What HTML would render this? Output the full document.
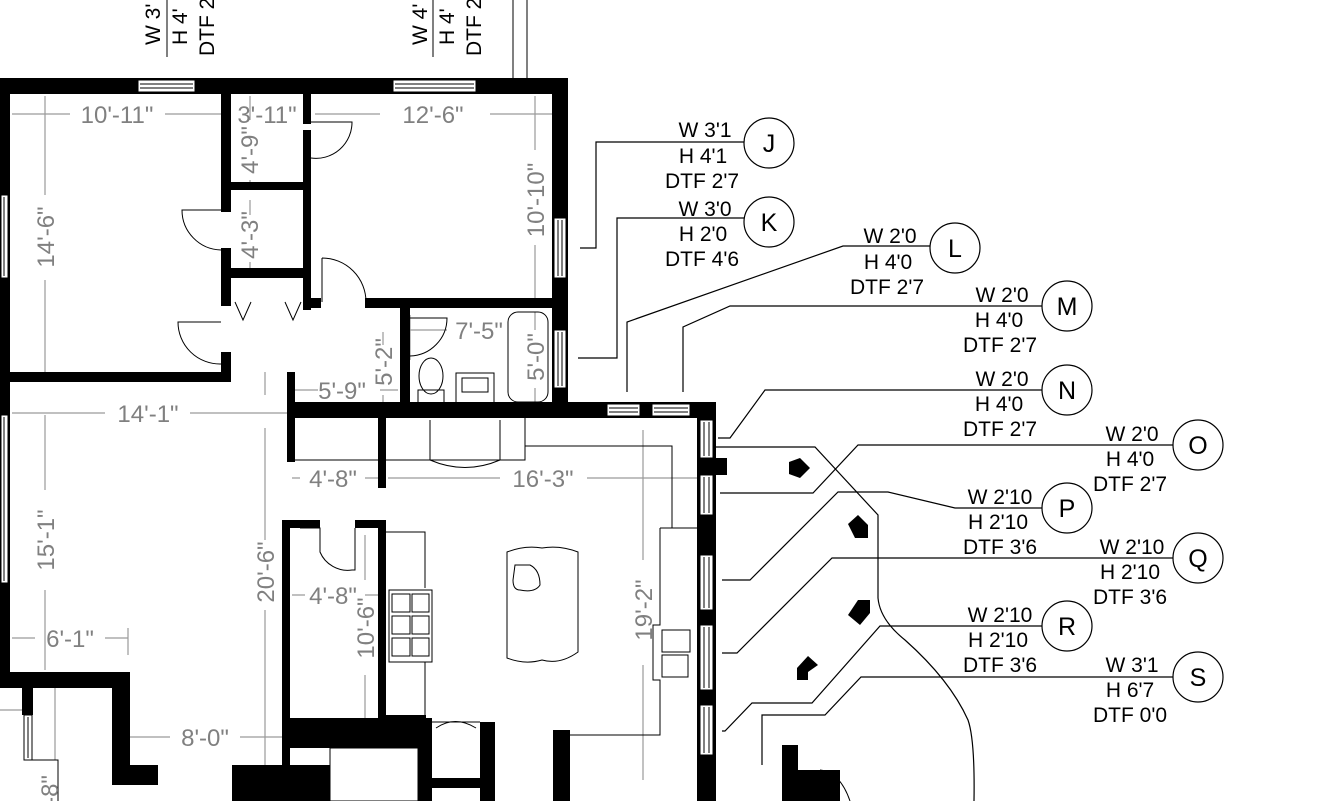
<!DOCTYPE html>
<html><head><meta charset="utf-8"><style>
html,body{margin:0;padding:0;background:#fff;}
svg{display:block;}
.d{font-family:"Liberation Sans",sans-serif;font-size:24px;fill:#808080;}
.c{font-family:"Liberation Sans",sans-serif;font-size:21px;fill:#000;}
.cl{font-family:"Liberation Sans",sans-serif;font-size:25px;fill:#000;}
</style></head><body>
<svg width="1318" height="801" viewBox="0 0 1318 801" xmlns="http://www.w3.org/2000/svg">
<rect width="1318" height="801" fill="#fff"/>
<g stroke="#9a9a9a" stroke-width="1.2" fill="none">
<path d="M12 114H70M165 114H222M315 114H380M490 114H552"/>
<path d="M45 96V195M45 280V372"/>
<path d="M250 96V120M250 180V190M250 200V215M250 262V272"/>
<path d="M535 96V150M535 245V298"/>
<path d="M12 413H105M190 413H287"/>
<path d="M265 372V395M265 428V540M265 610V790"/>
<path d="M45 415V490M45 590V670"/>
<path d="M292 478H300M365 478H380M388 478H500M587 478H697"/>
<path d="M292 595H305M365 595H378"/>
<path d="M365 535V580M365 675V720"/>
<path d="M643 430V560M643 665V780"/>
<path d="M12 638H35M105 638H128M128 628V655"/>
<path d="M130 737H170M240 737H282"/>
<path d="M295 390H318M380 390H398"/>
<path d="M383 332V345M383 395V408"/>
<path d="M410 315V360M410 330H447"/>
<path d="M535 312V330M535 388V402"/>
<path d="M55 688V760M0 710H22"/>
</g>
<g fill="#000">
<rect x="0" y="78" width="568" height="16"/>
<rect x="0" y="78" width="10" height="602"/>
<rect x="552" y="78" width="16" height="340"/>
<rect x="400" y="402" width="316" height="16"/>
<rect x="287" y="402" width="120" height="16"/>
<rect x="221" y="94" width="10" height="118"/>
<rect x="221" y="248" width="10" height="58"/>
<rect x="221" y="352" width="10" height="30"/>
<rect x="0" y="372" width="231" height="10"/>
<rect x="231" y="182" width="74" height="8"/>
<rect x="231" y="268" width="74" height="10"/>
<rect x="303" y="94" width="8" height="30"/>
<rect x="303" y="130" width="8" height="180"/>
<rect x="303" y="298" width="18" height="10"/>
<rect x="365" y="298" width="203" height="10"/>
<rect x="400" y="308" width="10" height="100"/>
<rect x="287" y="372" width="8" height="90"/>
<rect x="378" y="418" width="8" height="70"/>
<rect x="697" y="402" width="19" height="399"/>
<rect x="700" y="458" width="27" height="17"/>
<rect x="640" y="402" width="10" height="16"/>
<rect x="282" y="520" width="8" height="281"/>
<rect x="282" y="520" width="38" height="8"/>
<rect x="355" y="520" width="31" height="8"/>
<rect x="378" y="520" width="8" height="200"/>
<rect x="386" y="715" width="40" height="10"/>
<rect x="290" y="718" width="136" height="30"/>
<rect x="232" y="765" width="98" height="36"/>
<rect x="418" y="718" width="14" height="83"/>
<rect x="480" y="722" width="15" height="79"/>
<rect x="432" y="778" width="50" height="10"/>
<rect x="553" y="730" width="17" height="71"/>
<rect x="0" y="672" width="130" height="16"/>
<rect x="112" y="672" width="18" height="110"/>
<rect x="112" y="765" width="46" height="20"/>
<rect x="22" y="688" width="11" height="27"/>
<rect x="782" y="745" width="16" height="56"/>
<rect x="782" y="770" width="58" height="31"/>
<rect x="825" y="770" width="15" height="31"/>
</g>
<rect x="330" y="748" width="88" height="53" fill="#fff" stroke="#000"/>
<g fill="#fff" stroke="#000" stroke-width="1">
<rect x="138" y="80" width="57" height="12"/><path d="M140 84H193M140 88H193" fill="none"/>
<rect x="393" y="80" width="83" height="12"/><path d="M395 84H474M395 88H474" fill="none"/>
<rect x="554" y="218" width="12" height="60"/><path d="M558 220V276M562 220V276" fill="none"/>
<rect x="554" y="330" width="12" height="58"/><path d="M558 332V386M562 332V386" fill="none"/>
<rect x="1" y="195" width="7" height="83"/><path d="M4 197V276" fill="none"/>
<rect x="1" y="415" width="7" height="168"/><path d="M4 417V581" fill="none"/>
<rect x="607" y="404" width="33" height="12"/><path d="M609 408H638M609 412H638" fill="none"/>
<rect x="652" y="404" width="38" height="12"/><path d="M654 408H688M654 412H688" fill="none"/>
<rect x="700" y="420" width="13" height="38"/><path d="M704 422V456M709 422V456" fill="none"/>
<rect x="700" y="475" width="13" height="40"/><path d="M704 477V513M709 477V513" fill="none"/>
<rect x="700" y="555" width="13" height="55"/><path d="M704 557V608M709 557V608" fill="none"/>
<rect x="700" y="625" width="13" height="65"/><path d="M704 627V688M709 627V688" fill="none"/>
<rect x="700" y="705" width="13" height="50"/><path d="M704 707V753M709 707V753" fill="none"/>
<rect x="24" y="715" width="8" height="45"/><path d="M28 717V758" fill="none"/>
</g>
<g stroke="#000" stroke-width="1" fill="none">
<path d="M311 122H352A36 36 0 0 1 311 158"/>
<path d="M221 210H182A40 40 0 0 0 221 250"/>
<path d="M221 322H178A42 42 0 0 0 221 364"/>
<path d="M322 258V302M322 258A44 44 0 0 1 366 302"/>
<path d="M410 318H447A38 38 0 0 1 410 356"/>
<path d="M235 302L243 320L251 302M285 302L293 320L301 302"/>
<rect x="418" y="390" width="26" height="15"/>
<ellipse cx="431" cy="376" rx="12" ry="18"/>
<rect x="456" y="373" width="38" height="32"/><rect x="462" y="378" width="26" height="14"/>
<rect x="508" y="312" width="40" height="90" rx="10"/>
<path d="M290 460H525V418M378 460H386M430 420V460H500V420M430 460Q465 475 500 460"/>
<path d="M525 446H672V528"/>
<path d="M660 528H697M660 528V625H653V680H660V735H570"/>
<rect x="662" y="630" width="28" height="22"/><rect x="662" y="655" width="26" height="22"/>
<path d="M386 532H425V588M425 662V718M386 718H418"/>
<rect x="389" y="590" width="43" height="72"/>
<path d="M392 594H410V612H392ZM412 594H429V612H412ZM392 616H410V634H392ZM412 616H429V634H412ZM392 638H410V656H392ZM412 638H429V656H412Z"/>
<path d="M300 528H320V552A30 30 0 0 0 352 570H355V528"/>
<path d="M507 552Q525 545 542 548Q560 545 578 552V652Q560 665 542 660Q525 665 507 658Z"/>
<path d="M515 565H530Q540 570 540 585Q535 593 520 590Q513 590 513 580Z"/>
<path d="M432 722H480M436 728Q455 715 476 728"/>
<path d="M513 0V78M527 0V78"/>
<path d="M820 770Q840 772 850 801"/>
<path d="M32 760H58V801"/>
</g>
<g fill="#000">
<path d="M789 462L800 458L810 468L800 478L789 474Z"/>
<path d="M848 524L858 515L868 525L868 538L855 538Z"/>
<path d="M848 615L858 600L870 600L870 613L860 625Z"/>
<path d="M797 668L808 656L818 665L808 672L808 680L797 680Z"/>
</g>
<g stroke="#000" stroke-width="1.2" fill="none">
<path d="M744 142H596V248H580"/>
<path d="M744 218H617V358H578"/>
<path d="M930 246H843L627 322V392"/>
<path d="M1042 306H730L683 327V392"/>
<path d="M1042 390H765L730 438H718"/>
<path d="M1173 445H858L813 493H720"/>
<path d="M1042 508H955L888 492H838L750 580H722"/>
<path d="M1173 558H832L737 653H722"/>
<path d="M1042 626H880L812 703H752L725 731H722"/>
<path d="M1173 677H861L825 715H762V765"/>
<path d="M716 447H815L878 515V598Q880 620 905 640Q950 680 968 720Q975 740 974 801"/>
</g>
<g fill="#fff" stroke="#000" stroke-width="1.2">
<circle cx="769" cy="143" r="25"/><circle cx="769" cy="222" r="25"/><circle cx="955" cy="248" r="25"/>
<circle cx="1067" cy="306" r="25"/><circle cx="1067" cy="390" r="25"/><circle cx="1198" cy="445" r="25"/>
<circle cx="1067" cy="508" r="25"/><circle cx="1198" cy="558" r="25"/><circle cx="1067" cy="626" r="25"/>
<circle cx="1198" cy="677" r="25"/>
</g>
<g class="cl" text-anchor="middle">
<text x="769" y="152">J</text><text x="769" y="231">K</text><text x="955" y="257">L</text>
<text x="1067" y="315">M</text><text x="1067" y="399">N</text><text x="1198" y="454">O</text>
<text x="1067" y="517">P</text><text x="1198" y="567">Q</text><text x="1067" y="635">R</text>
<text x="1198" y="686">S</text>
</g>
<g class="c" text-anchor="middle">
<text x="705" y="137">W 3'1</text><text x="703" y="163">H 4'1</text><text x="702" y="188">DTF 2'7</text>
<text x="705" y="216">W 3'0</text><text x="703" y="241">H 2'0</text><text x="702" y="266">DTF 4'6</text>
<text x="890" y="243">W 2'0</text><text x="888" y="269">H 4'0</text><text x="887" y="294">DTF 2'7</text>
<text x="1002" y="302">W 2'0</text><text x="999" y="327">H 4'0</text><text x="1000" y="352">DTF 2'7</text>
<text x="1002" y="386">W 2'0</text><text x="999" y="411">H 4'0</text><text x="1000" y="436">DTF 2'7</text>
<text x="1132" y="441">W 2'0</text><text x="1130" y="466">H 4'0</text><text x="1130" y="491">DTF 2'7</text>
<text x="1000" y="504">W 2'10</text><text x="998" y="529">H 2'10</text><text x="1000" y="554">DTF 3'6</text>
<text x="1132" y="554">W 2'10</text><text x="1130" y="579">H 2'10</text><text x="1130" y="604">DTF 3'6</text>
<text x="1000" y="622">W 2'10</text><text x="998" y="647">H 2'10</text><text x="1000" y="672">DTF 3'6</text>
<text x="1132" y="672">W 3'1</text><text x="1130" y="697">H 6'7</text><text x="1130" y="722">DTF 0'0</text>
</g>
<g class="c">
<text transform="translate(160,45) rotate(-90)">W 3'</text>
<text transform="translate(187,45) rotate(-90)">H 4'</text>
<text transform="translate(214,56) rotate(-90)">DTF 2</text>
<text transform="translate(427,45) rotate(-90)">W 4'</text>
<text transform="translate(454,45) rotate(-90)">H 4'</text>
<text transform="translate(481,56) rotate(-90)">DTF 2</text>
</g>
<path d="M167 0V57M433 0V57" stroke="#000" stroke-width="1"/>
<g class="d" text-anchor="middle">
<text x="117" y="123">10'-11"</text>
<text x="267" y="123">3'-11"</text>
<text x="433" y="123">12'-6"</text>
<text x="148" y="422">14'-1"</text>
<text x="333" y="487">4'-8"</text>
<text x="543" y="487">16'-3"</text>
<text x="333" y="604">4'-8"</text>
<text x="70" y="647">6'-1"</text>
<text x="205" y="746">8'-0"</text>
<text x="342" y="399">5'-9"</text>
<text x="479" y="339">7'-5"</text>
<text transform="translate(54,237) rotate(-90)">14'-6"</text>
<text transform="translate(258,150) rotate(-90)">4'-9"</text>
<text transform="translate(258,235) rotate(-90)">4'-3"</text>
<text transform="translate(544,200) rotate(-90)">10'-10"</text>
<text transform="translate(392,362) rotate(-90)">5'-2"</text>
<text transform="translate(544,357) rotate(-90)">5'-0"</text>
<text transform="translate(54,540) rotate(-90)">15'-1"</text>
<text transform="translate(274,572) rotate(-90)">20'-6"</text>
<text transform="translate(374,628) rotate(-90)">10'-6"</text>
<text transform="translate(652,610) rotate(-90)">19'-2"</text>
<text transform="translate(58,790) rotate(-90)">-8"</text>
</g>
</svg>
</body></html>
